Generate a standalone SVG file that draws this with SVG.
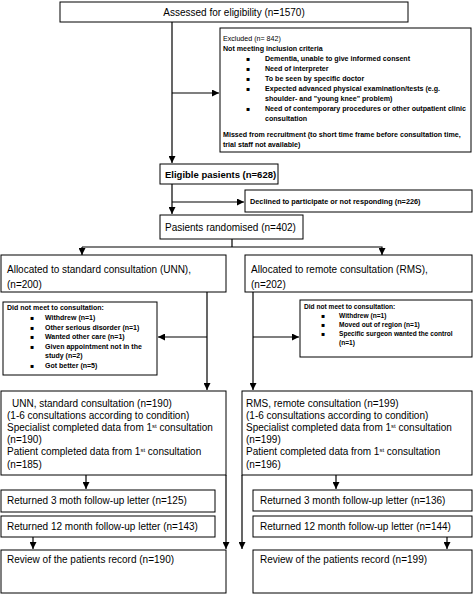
<svg xmlns="http://www.w3.org/2000/svg" width="473" height="595" viewBox="0 0 473 595">
<defs>
<marker id="ah" markerUnits="userSpaceOnUse" markerWidth="7" markerHeight="7" viewBox="0 0 7 7" refX="7" refY="3.5" orient="auto">
<path d="M0,0 L7,3.5 L0,7 Z" fill="#000"/>
</marker>
<style>
rect.b{fill:#fff;stroke:#000;stroke-width:1}
text{font-family:"Liberation Sans",Arial,sans-serif;fill:#000}
.m{font-size:10px}
.s{font-size:7.1px;font-weight:bold}
.s0{font-size:7.1px}
.d{font-size:7.3px;font-weight:bold}
.l{font-size:7px;font-weight:bold}
.r{font-size:6.6px;font-weight:bold}
.bl{font-family:"DejaVu Sans",sans-serif;font-size:6px}
.c line,.c polyline{stroke:#000;stroke-width:1.2;fill:none}
.sup{font-size:6px}
</style>
</defs>
<rect width="473" height="595" fill="#fff"/>

<g class="c" id="connectors">
<line x1="172" y1="22" x2="172" y2="163" marker-end="url(#ah)"/>
<line x1="172" y1="93" x2="219" y2="93" marker-end="url(#ah)"/>
<line x1="172" y1="184" x2="172" y2="214" marker-end="url(#ah)"/>
<line x1="172" y1="202" x2="244" y2="202" marker-end="url(#ah)"/>
<polyline points="232,239 232,247"/>
<polyline points="82,247 382,247 382,255" marker-end="url(#ah)"/>
<line x1="82" y1="247" x2="82" y2="255" marker-end="url(#ah)"/>
<line x1="207" y1="292" x2="207" y2="390" marker-end="url(#ah)"/>
<line x1="207" y1="337" x2="158" y2="337" marker-end="url(#ah)"/>
<line x1="253" y1="292" x2="253" y2="390" marker-end="url(#ah)"/>
<line x1="253" y1="337" x2="299" y2="337" marker-end="url(#ah)"/>
<line x1="226" y1="475" x2="226" y2="549" marker-end="url(#ah)"/>
<line x1="86" y1="462" x2="86" y2="489" marker-end="url(#ah)"/>
<line x1="33" y1="537" x2="33" y2="549" marker-end="url(#ah)"/>
<line x1="242" y1="475" x2="242" y2="549" marker-end="url(#ah)"/>
<line x1="336" y1="475" x2="336" y2="489" marker-end="url(#ah)"/>
<line x1="447" y1="537" x2="447" y2="549" marker-end="url(#ah)"/>
</g>

<g id="assessed">
<rect class="b" x="60" y="2" width="348" height="20"/>
<text class="m" x="234" y="16" text-anchor="middle">Assessed for eligibility (n=1570)</text>
</g>

<g id="excluded">
<rect class="b" x="220" y="28" width="251" height="124"/>
<text class="s0" x="223" y="41">Excluded (n= 842)</text>
<text class="s" x="223" y="51">Not meeting inclusion criteria</text>
<text class="bl" x="246" y="61">▪</text><text class="s" x="265" y="61">Dementia, unable to give informed consent</text>
<text class="bl" x="246" y="71">▪</text><text class="s" x="265" y="71">Need of interpreter</text>
<text class="bl" x="246" y="81">▪</text><text class="s" x="265" y="81">To be seen by specific doctor</text>
<text class="bl" x="246" y="91">▪</text><text class="s" x="265" y="91">Expected advanced physical examination/tests  (e.g.</text>
<text class="s" x="265" y="101">shoulder- and "young knee" problem)</text>
<text class="bl" x="246" y="111">▪</text><text class="s" x="265" y="111">Need of contemporary procedures or other outpatient clinic</text>
<text class="s" x="265" y="121">consultation</text>
<text class="s" x="223" y="137">Missed from recruitment (to short time frame before consultation time,</text>
<text class="s" x="223" y="147">trial staff not available)</text>
</g>

<g id="eligible">
<rect class="b" x="160" y="164" width="118" height="20"/>
<text x="165" y="178" font-size="9.5" font-weight="bold">Eligible pasients (n=628)</text>
</g>

<g id="declined">
<rect class="b" x="245" y="190" width="227" height="22"/>
<text class="d" x="250" y="204">Declined to participate or not responding (n=226)</text>
</g>

<g id="randomised">
<rect class="b" x="160" y="215" width="143" height="24"/>
<text class="m" x="165" y="231">Pasients randomised (n=402)</text>
</g>

<g id="alloc-unn">
<rect class="b" x="1" y="255" width="225" height="37"/>
<text class="m" x="7" y="273">Allocated to standard consultation (UNN),</text>
<text class="m" x="7" y="288">(n=200)</text>
</g>

<g id="alloc-rms">
<rect class="b" x="245" y="255" width="227" height="37"/>
<text class="m" x="251" y="273">Allocated to remote consultation (RMS),</text>
<text class="m" x="251" y="288">(n=202)</text>
</g>

<g id="dnm-unn">
<rect class="b" x="3" y="302" width="154" height="73"/>
<text class="l" x="7" y="310">Did not meet to consultation:</text>
<text class="bl" x="30" y="320">▪</text><text class="l" x="45" y="320">Withdrew (n=1)</text>
<text class="bl" x="30" y="329.5">▪</text><text class="l" x="45" y="329.5">Other serious disorder (n=1)</text>
<text class="bl" x="30" y="339">▪</text><text class="l" x="45" y="339">Wanted other care (n=1)</text>
<text class="bl" x="30" y="348.5">▪</text><text class="l" x="45" y="348.5">Given appointment not in the</text>
<text class="l" x="45" y="358">study (n=2)</text>
<text class="bl" x="30" y="367.5">▪</text><text class="l" x="45" y="367.5">Got better (n=5)</text>
</g>

<g id="dnm-rms">
<rect class="b" x="300" y="300" width="172" height="57"/>
<text class="r" x="304" y="309">Did not meet to consultation:</text>
<text class="bl" x="321" y="318">▪</text><text class="r" x="339" y="318">Withdrew (n=1)</text>
<text class="bl" x="321" y="327">▪</text><text class="r" x="339" y="327">Moved out of region (n=1)</text>
<text class="bl" x="321" y="336">▪</text><text class="r" x="339" y="336">Specific surgeon wanted the control</text>
<text class="r" x="339" y="345">(n=1)</text>
</g>

<g id="std-unn">
<rect class="b" x="1" y="391" width="225" height="84"/>
<text class="m" x="12" y="407">UNN, standard consultation (n=190)</text>
<text class="m" x="7" y="419">(1-6 consultations according to condition)</text>
<text class="m" x="7" y="431">Specialist completed data from 1<tspan class="sup" dy="-3.5">st</tspan><tspan dy="3.5"> consultation</tspan></text>
<text class="m" x="7" y="443">(n=190)</text>
<text class="m" x="7" y="455">Patient completed data from 1<tspan class="sup" dy="-3.5">st</tspan><tspan dy="3.5"> consultation</tspan></text>
<text class="m" x="7" y="468">(n=185)</text>
</g>

<g id="std-rms">
<rect class="b" x="242" y="391" width="230" height="84"/>
<text class="m" x="246" y="407">RMS, remote consultation (n=199)</text>
<text class="m" x="246" y="419">(1-6 consultations according to condition)</text>
<text class="m" x="246" y="431">Specialist completed data from 1<tspan class="sup" dy="-3.5">st</tspan><tspan dy="3.5"> consultation</tspan></text>
<text class="m" x="246" y="443">(n=199)</text>
<text class="m" x="246" y="455">Patient completed data from 1<tspan class="sup" dy="-3.5">st</tspan><tspan dy="3.5"> consultation</tspan></text>
<text class="m" x="246" y="468">(n=196)</text>
</g>

<g id="ret3-unn">
<rect class="b" x="1" y="490" width="214" height="22"/>
<text class="m" x="7" y="504">Returned 3 moth follow-up letter (n=125)</text>
</g>
<g id="ret12-unn">
<rect class="b" x="1" y="516" width="214" height="21"/>
<text class="m" x="7" y="530">Returned 12 month follow-up letter (n=143)</text>
</g>
<g id="review-unn">
<rect class="b" x="1" y="550" width="225" height="43"/>
<text class="m" x="7" y="563">Review of the patients record (n=190)</text>
</g>

<g id="ret3-rms">
<rect class="b" x="253" y="490" width="219" height="21"/>
<text class="m" x="260" y="504">Returned 3 month follow-up letter (n=136)</text>
</g>
<g id="ret12-rms">
<rect class="b" x="253" y="516" width="219" height="21"/>
<text class="m" x="260" y="530">Returned 12 month follow-up letter (n=144)</text>
</g>
<g id="review-rms">
<rect class="b" x="253" y="550" width="219" height="43"/>
<text class="m" x="260" y="563">Review of the patients record (n=199)</text>
</g>
</svg>
